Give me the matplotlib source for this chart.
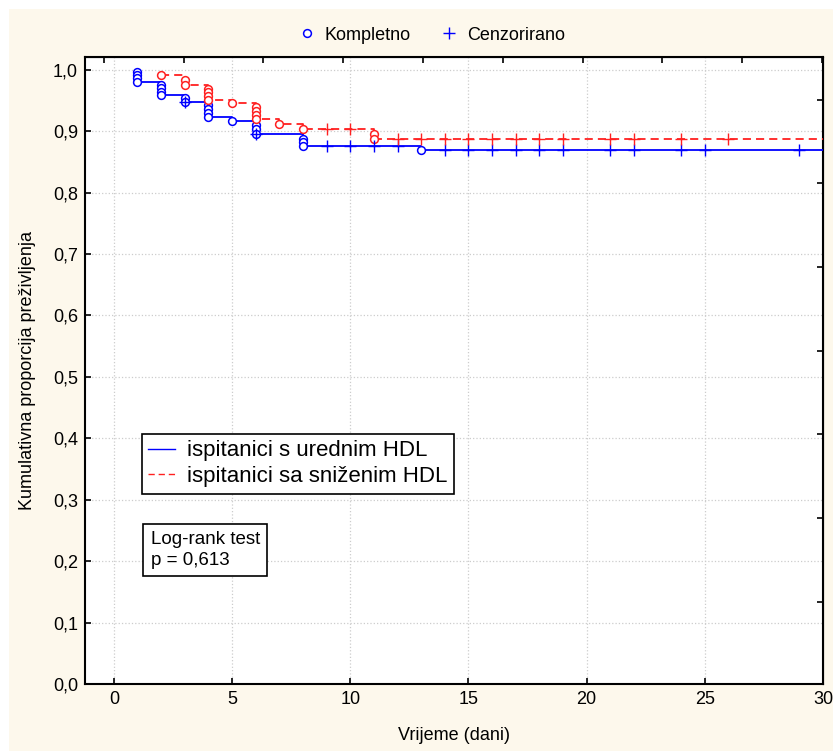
import numpy as np
import matplotlib
matplotlib.use("Agg")
import matplotlib.pyplot as plt
from matplotlib.lines import Line2D
from matplotlib.patches import Rectangle
from matplotlib.ticker import FuncFormatter

plt.rcParams['font.family'] = ['Liberation Sans', 'DejaVu Sans']

# step curves (time of event, survival after event)
blue_t = [1, 2, 3, 4, 5, 6, 8, 13]
blue_s = [0.980, 0.959, 0.948, 0.923, 0.916, 0.896, 0.876, 0.869]
red_t = [2, 3, 4, 5, 6, 7, 8, 11]
red_s = [0.991, 0.975, 0.951, 0.946, 0.920, 0.911, 0.904, 0.887]

# complete (event) markers
blue_evt_t = [1, 1, 1, 1, 2, 2, 2, 2, 3, 3, 4, 4, 4, 4, 5, 6, 6, 6, 8, 8, 8, 13]
blue_evt_s = [0.996, 0.991, 0.986, 0.980, 0.975, 0.970, 0.964, 0.959, 0.954, 0.948,
              0.943, 0.936, 0.929, 0.923, 0.916, 0.910, 0.903, 0.896, 0.888, 0.882, 0.876, 0.869]
red_evt_t = [2, 3, 3, 4, 4, 4, 4, 5, 6, 6, 6, 6, 7, 8, 11, 11]
red_evt_s = [0.991, 0.984, 0.975, 0.969, 0.963, 0.957, 0.951, 0.946, 0.939, 0.932, 0.926, 0.920,
             0.911, 0.904, 0.895, 0.887]

# censored markers
blue_cens_t = [3, 6, 9, 10, 11, 12, 14, 15, 16, 17, 18, 19, 21, 22, 24, 25, 29]
blue_cens_s = [0.948, 0.896, 0.876, 0.876, 0.876, 0.876] + [0.869] * 11
red_cens_t = [9, 10, 12, 13, 14, 15, 16, 17, 18, 19, 21, 22, 24, 26]
red_cens_s = [0.904, 0.904] + [0.887] * 12

x_max = 30
labels = ["ispitanici s urednim HDL", "ispitanici sa sniženim HDL"]

cream = '#fdf8ec'
fig = plt.figure(figsize=(8.33, 7.51), dpi=100, facecolor='white')
fig.patches.append(Rectangle((9 / 833, 0), 1, 1 - 9 / 751, transform=fig.transFigure,
                             fc=cream, ec='none', zorder=-10))
ax = fig.add_axes([85 / 833, 1 - 684 / 751, 738 / 833, 627 / 751])
ax.set_facecolor('white')

bx = np.append(blue_t, x_max)
by = np.append(blue_s, blue_s[-1])
rx = np.append(red_t, x_max)
ry = np.append(red_s, red_s[-1])

ax.step(bx, by, where='post', color='#0000ff', lw=1.3, label=labels[0], zorder=3)
ax.step(rx, ry, where='post', color='#ff2020', lw=1.3, dashes=(4.5, 2.8), label=labels[1], zorder=3)

ax.plot(blue_evt_t, blue_evt_s, 'o', ms=5.6, mfc='white', mec='#0000ff', mew=1.1, zorder=4)
ax.plot(red_evt_t, red_evt_s, 'o', ms=5.6, mfc='white', mec='#ff2020', mew=1.1, zorder=4)
ax.plot(blue_cens_t, blue_cens_s, '+', ms=9, mec='#0000ff', mew=1.0, zorder=4)
ax.plot(red_cens_t, red_cens_s, '+', ms=9, mec='#ff2020', mew=1.0, zorder=4)

ax.set_xlim(-1.22, 30)
ax.set_ylim(0, 1.0207)
ax.set_xticks(np.arange(0, 31, 5))
ax.set_yticks(np.arange(0, 1.01, 0.1))
ax.yaxis.set_major_formatter(FuncFormatter(lambda v, p: f"{v:.1f}".replace('.', ',')))
ax.tick_params(direction='in', length=4, width=1.2, labelsize=13, pad=5)
ax.grid(True, color='#cccccc', ls=':', lw=0.9)
for s in ax.spines.values():
    s.set_linewidth(1.5)

# Statistica style extra ticks on top and right
top = ax.secondary_xaxis('top')
top.set_xticks(np.arange(-0.42, 30, 3.375))
top.tick_params(direction='in', length=4, width=1.2, labeltop=False)
right = ax.secondary_yaxis('right')
right.set_yticks(np.arange(0.134, 0.96, 0.1362))
right.tick_params(direction='in', length=4, width=1.2, labelright=False)

ax.set_xlabel("Vrijeme (dani)", fontsize=13, labelpad=14)
ax.set_ylabel("Kumulativna proporcija preživljenja", fontsize=13, labelpad=12)

leg = ax.legend(loc='upper left', bbox_to_anchor=(0.077, 0.399), borderaxespad=0,
                fontsize=16, handlelength=1.2, handletextpad=0.55, labelspacing=0.2,
                borderpad=0.3, fancybox=False, framealpha=1, edgecolor='black')
leg.get_frame().set_linewidth(1.2)
for h in leg.get_lines():
    h.set_linewidth(1.0)

ax.text(0.089, 0.2137, "Log-rank test\np = 0,613", transform=ax.transAxes, fontsize=13.5,
        va='center', ha='left', linespacing=1.3,
        bbox=dict(boxstyle='square,pad=0.4', fc='white', ec='black', lw=1.2))

handles = [Line2D([], [], ls='none', marker='o', ms=5.6, mfc='white', mec='#0000ff', mew=1.1),
           Line2D([], [], ls='none', marker='+', ms=9, mec='#0000ff', mew=1.0)]
fig.legend(handles, ["Kompletno", "Cenzorirano"], loc='center', bbox_to_anchor=(0.518, 1 - 35 / 751),
           ncol=2, frameon=False, fontsize=13, handlelength=1.0, handletextpad=0.5,
           columnspacing=1.6)

fig.savefig("out.png", dpi=100, facecolor=fig.get_facecolor())
